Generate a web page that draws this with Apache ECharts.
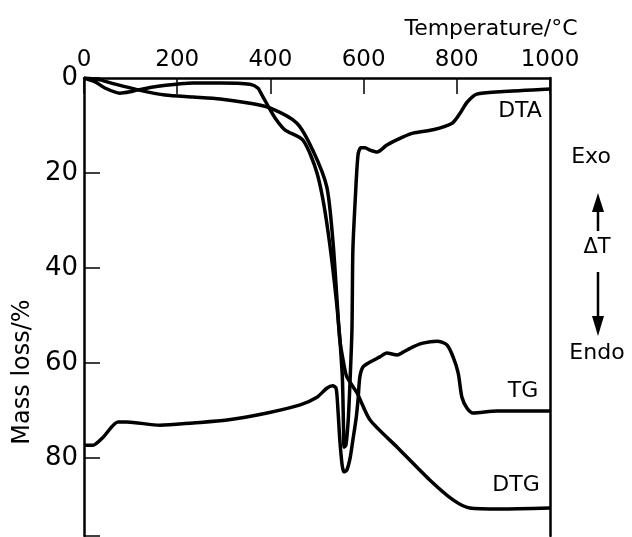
<!DOCTYPE html>
<html>
<head>
<meta charset="utf-8">
<script src="https://cdn.jsdelivr.net/npm/echarts@6/dist/echarts.min.js"></script>
<style>
html,body{margin:0;padding:0;background:#fff;}
#chart{width:632px;height:537px;}
</style>
</head>
<body>
<div id="chart"></div>
<script>
// Temperature (°C) vs value
var dtaTemp = [0,24,45,77,99,116,163,234,292,356,373,382,395,410,431,470,500,521,543,554,557,558,562,567,571,575,577,582,588,594,603,614,629,650,685,706,749,790,807,822,843,893,1000];
var dtaVal  = [0,0.8,2.1,3.2,2.9,2.5,1.7,1.05,1.05,1.3,2.1,3.6,5.9,8.4,10.9,13.1,20,30.5,48.2,62.1,74.1,77.7,77.3,72,63.6,53,36.2,25.7,16.2,14.7,14.7,15.2,15.6,14.1,12.4,11.6,10.9,9.5,7.4,5.1,3.4,2.9,2.3];

var tgTemp = [0,34,67,116,174,234,292,356,399,457,491,521,534,543,549,558,564,586,614,672,742,792,828,893,1000];
var tgVal  = [0,0.4,1.3,2.5,3.6,4.0,4.4,5.3,6.3,9.5,15.2,22.9,34.1,46.7,55.2,60.4,62.9,66.3,72,77.7,84.6,88.8,90.5,90.7,90.5];

var dtgTemp = [0,19,41,73,92,163,234,307,393,464,500,521,534,541,545,549,554,558,564,571,577,584,588,592,599,614,635,650,672,685,706,727,758,779,792,803,811,822,835,886,1000];
var dtgVal  = [77.3,77.3,75.6,72.4,72.4,73.1,72.6,72,70.5,68.8,67.2,65.3,64.8,65.3,69.9,76.2,81.5,82.9,82.5,80,76.2,71.6,67.8,62.9,60.8,59.8,58.7,57.9,58.3,57.7,56.6,55.8,55.4,56.2,58.7,62.1,67.2,69.5,70.5,70.1,70.1];

var xTicks = [0,200,400,600,800,1000];
var yTicks = [0,20,40,60,80];

function pairs(xs, ys){ return xs.map(function(x,i){ return [x, ys[i]]; }); }

var FONT = 'DejaVu Sans';
var chart = echarts.init(document.getElementById('chart'), null, {renderer:'canvas'});
function ls(){ return {color:'#000', width:3.5}; }
function txt(t, x, y, fs){
  return {type:'text', x:x, y:y, style:{text:t, fontSize:fs, fontFamily:FONT, fill:'#000', textAlign:'center', textVerticalAlign:'middle'}};
}
chart.setOption({
  animation:false,
  backgroundColor:'#fff',
  grid:{left:84, right:82, top:78, bottom:1, outerBoundsMode:'none'},
  xAxis:{
    type:'value', position:'top', min:0, max:1000, interval:200,
    axisLine:{show:true, lineStyle:{color:'#000', width:2.5}},
    axisTick:{show:true, inside:true, length:16, lineStyle:{color:'#000', width:1.5}},
    axisLabel:{show:true, margin:6, fontSize:23, color:'#000', fontFamily:FONT,
      formatter:function(v){ return xTicks.indexOf(v) >= 0 ? String(v) : ''; }},
    splitLine:{show:false}
  },
  yAxis:[{
    type:'value', inverse:true, min:0, max:96.4, interval:20,
    axisLine:{show:true, lineStyle:{color:'#000', width:2.5}},
    axisTick:{show:true, inside:true, length:16, lineStyle:{color:'#000', width:1.5}},
    axisLabel:{show:true, margin:6, fontSize:26, color:'#000', fontFamily:FONT,
      formatter:function(v){ return yTicks.indexOf(v) >= 0 ? String(v) : ''; }},
    splitLine:{show:false}
  },{
    type:'value', inverse:true, min:0, max:96.4, position:'right',
    axisLine:{show:true, lineStyle:{color:'#000', width:2.5}},
    axisTick:{show:false}, axisLabel:{show:false}, splitLine:{show:false}
  }],
  series:[
    {name:'DTA', type:'line', data:pairs(dtaTemp, dtaVal), showSymbol:false, smooth:0.25, lineStyle:ls()},
    {name:'TG', type:'line', data:pairs(tgTemp, tgVal), showSymbol:false, smooth:0.25, lineStyle:ls()},
    {name:'DTG', type:'line', data:pairs(dtgTemp, dtgVal), showSymbol:false, smooth:0.25, lineStyle:ls()}
  ],
  graphic:[
    txt('Temperature/°C', 491, 29, 22),
    {type:'text', x:23, y:372, rotation:Math.PI/2, style:{text:'Mass loss/%', fontSize:24, fontFamily:FONT, fill:'#000', textAlign:'center', textVerticalAlign:'middle'}},
    txt('DTA', 520, 111, 22),
    txt('TG', 523, 391, 22),
    txt('DTG', 516, 485, 22),
    txt('Exo', 591, 157, 22),
    txt('ΔT', 597, 248, 21),
    txt('Endo', 597, 353, 22),
    {type:'line', shape:{x1:598, y1:208, x2:598, y2:231}, style:{stroke:'#000', lineWidth:2.5}},
    {type:'polygon', shape:{points:[[598,193],[592,212],[604,212]]}, style:{fill:'#000'}},
    {type:'line', shape:{x1:598, y1:272, x2:598, y2:320}, style:{stroke:'#000', lineWidth:2.5}},
    {type:'polygon', shape:{points:[[598,336],[592,316],[604,316]]}, style:{fill:'#000'}}
  ]
});
</script>
</body>
</html>
